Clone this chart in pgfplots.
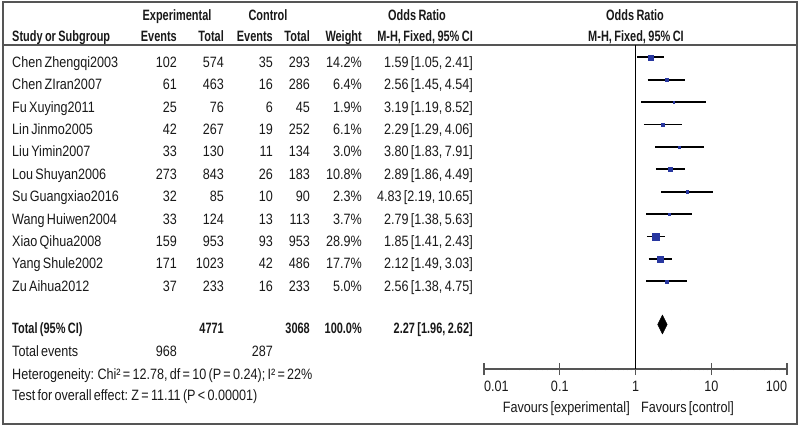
\documentclass[border=0pt]{standalone}
\usepackage{fontspec}
\setmainfont{Liberation Sans}[FakeStretch=0.84, WordSpace=0.65]
\newfontfamily\hb{Liberation Sans Bold}[FakeStretch=0.73, WordSpace=0.8]
\usepackage{pgfplots}
\pgfplotsset{compat=1.18}
\usepackage{pgfplotstable}

\definecolor{sq}{RGB}{40,55,160}
\definecolor{frm}{RGB}{85,85,85}
\definecolor{txt}{RGB}{25,25,25}

% or, lower, upper, row position, half side of square
\pgfplotstableread{
or   lo   hi    y      ms
1.59 1.05 2.41  -57.3  2.56
2.56 1.45 4.54  -79.7  1.72
3.19 1.19 8.52  -102.1 0.94
2.29 1.29 4.06  -124.5 1.68
3.80 1.83 7.91  -146.9 1.18
2.89 1.86 4.49  -169.3 2.23
4.83 2.19 10.65 -191.7 1.03
2.79 1.38 5.63  -214.1 1.31
1.85 1.41 2.43  -236.5 3.65
2.12 1.49 3.03  -258.9 2.86
2.56 1.38 4.75  -281.3 1.52
}\studies

\begin{document}
\begin{tikzpicture}[font=\fontsize{15}{18}\selectfont, every node/.style={inner sep=0pt, text=txt}]
\useasboundingbox (0,0) rectangle (800pt,-427pt);
\draw[frm, line width=1.4pt] (3pt,-2pt) rectangle (797pt,-424pt);
\draw[frm, line width=1.2pt] (3pt,-45pt) -- (797pt,-45pt);

% headers
\begin{scope}[font=\fontsize{15}{18}\hb]
\node[anchor=base] at (177pt,-20.3pt) {Experimental};
\node[anchor=base] at (268pt,-20.3pt) {Control};
\node[anchor=base] at (417pt,-20.3pt) {Odds Ratio};
\node[anchor=base] at (635pt,-20.3pt) {Odds Ratio};
\node[anchor=base west] at (12pt,-41.5pt) {Study or Subgroup};
\node[anchor=base east] at (177pt,-41.5pt) {Events};
\node[anchor=base east] at (224pt,-41.5pt) {Total};
\node[anchor=base east] at (273pt,-41.5pt) {Events};
\node[anchor=base east] at (310pt,-41.5pt) {Total};
\node[anchor=base east] at (362pt,-41.5pt) {Weight};
\node[anchor=base east] at (473pt,-41.5pt) {M-H, Fixed, 95\% CI};
\node[anchor=base] at (636pt,-41.5pt) {M-H, Fixed, 95\% CI};
\end{scope}

% study rows
\foreach \nm/\ee/\et/\ce/\ct/\w/\ci [count=\i from 0] in {
Chen Zhengqi2003/102/574/35/293/14.2/{1.59 [1.05, 2.41]},
Chen ZIran2007/61/463/16/286/6.4/{2.56 [1.45, 4.54]},
Fu Xuying2011/25/76/6/45/1.9/{3.19 [1.19, 8.52]},
Lin Jinmo2005/42/267/19/252/6.1/{2.29 [1.29, 4.06]},
Liu Yimin2007/33/130/11/134/3.0/{3.80 [1.83, 7.91]},
Lou Shuyan2006/273/843/26/183/10.8/{2.89 [1.86, 4.49]},
Su Guangxiao2016/32/85/10/90/2.3/{4.83 [2.19, 10.65]},
Wang Huiwen2004/33/124/13/113/3.7/{2.79 [1.38, 5.63]},
Xiao Qihua2008/159/953/93/953/28.9/{1.85 [1.41, 2.43]},
Yang Shule2002/171/1023/42/486/17.7/{2.12 [1.49, 3.03]},
Zu Aihua2012/37/233/16/233/5.0/{2.56 [1.38, 4.75]}}{
\pgfmathsetmacro\yb{-(67.3+22.4*\i)}
\node[anchor=base west] at (12pt,\yb pt) {\nm};
\node[anchor=base east] at (177pt,\yb pt) {\ee};
\node[anchor=base east] at (224pt,\yb pt) {\et};
\node[anchor=base east] at (273pt,\yb pt) {\ce};
\node[anchor=base east] at (310pt,\yb pt) {\ct};
\node[anchor=base east] at (362pt,\yb pt) {\w\%};
\node[anchor=base east] at (473pt,\yb pt) {\ci};
}

\begin{scope}[font=\fontsize{15}{18}\hb]
\node[anchor=base west] at (12pt,-333.3pt) {Total (95\% CI)};
\node[anchor=base east] at (224pt,-333.3pt) {4771};
\node[anchor=base east] at (310pt,-333.3pt) {3068};
\node[anchor=base east] at (362pt,-333.3pt) {100.0\%};
\node[anchor=base east] at (473pt,-333.3pt) {2.27 [1.96, 2.62]};
\end{scope}
\node[anchor=base west] at (12pt,-356.5pt) {Total events};
\node[anchor=base east] at (177pt,-356.5pt) {968};
\node[anchor=base east] at (273pt,-356.5pt) {287};
\node[anchor=base west] at (12pt,-379.3pt) {Heterogeneity: Chi² = 12.78, df = 10 (P = 0.24); I² = 22\%};
\node[anchor=base west] at (12pt,-400.5pt) {Test for overall effect: Z = 11.11 (P < 0.00001)};

\node[anchor=base east] at (630pt,-412pt) {Favours [experimental]};
\node[anchor=base west] at (641pt,-412pt) {Favours [control]};

\begin{axis}[
  at={(484pt,-369pt)}, anchor=south west,
  scale only axis, width=303pt, height=324pt,
  xmode=log, xmin=0.01, xmax=100,
  ymin=-369, ymax=-45,
  axis y line=none, axis x line*=bottom,
  xtick={0.01,0.1,1,10,100},
  xticklabels={\makebox[0pt][l]{0.01},0.1,1,10,\makebox[0pt][r]{100}},
  minor xtick={},
  tick align=center, major tick length=12pt,
  x axis line style={line width=1.4pt, color=frm},
  xtick style={line width=1.4pt, color=frm},
  xticklabel style={font=\fontsize{15}{18}\selectfont, text=txt, inner sep=0pt, yshift=-6pt},
  clip=false,
]
\addplot[black, line width=1pt] coordinates {(1,-45) (1,-369)};
\addplot[black, line width=1.7pt] coordinates {(1.05,-57.3) (2.41,-57.3)};
\addplot[black, line width=1.7pt] coordinates {(1.45,-79.7) (4.54,-79.7)};
\addplot[black, line width=1.7pt] coordinates {(1.19,-102.1) (8.52,-102.1)};
\addplot[black, line width=1.7pt] coordinates {(1.29,-124.5) (4.06,-124.5)};
\addplot[black, line width=1.7pt] coordinates {(1.83,-146.9) (7.91,-146.9)};
\addplot[black, line width=1.7pt] coordinates {(1.86,-169.3) (4.49,-169.3)};
\addplot[black, line width=1.7pt] coordinates {(2.19,-191.7) (10.65,-191.7)};
\addplot[black, line width=1.7pt] coordinates {(1.38,-214.1) (5.63,-214.1)};
\addplot[black, line width=1.7pt] coordinates {(1.41,-236.5) (2.43,-236.5)};
\addplot[black, line width=1.7pt] coordinates {(1.49,-258.9) (3.03,-258.9)};
\addplot[black, line width=1.7pt] coordinates {(1.38,-281.3) (4.75,-281.3)};
\addplot[scatter, only marks, mark=square*,
  scatter/use mapped color={draw=sq, fill=sq},
  visualization depends on={\thisrow{ms}\as\msize},
  scatter/@pre marker code/.append style={/tikz/mark size=\msize pt}]
  table[x=or, y=y] {\studies};
\addplot[black, fill=black] coordinates {(1.96,-324.5) (2.27,-315) (2.62,-324.5) (2.27,-334) (1.96,-324.5)};
\end{axis}
\end{tikzpicture}
\end{document}
